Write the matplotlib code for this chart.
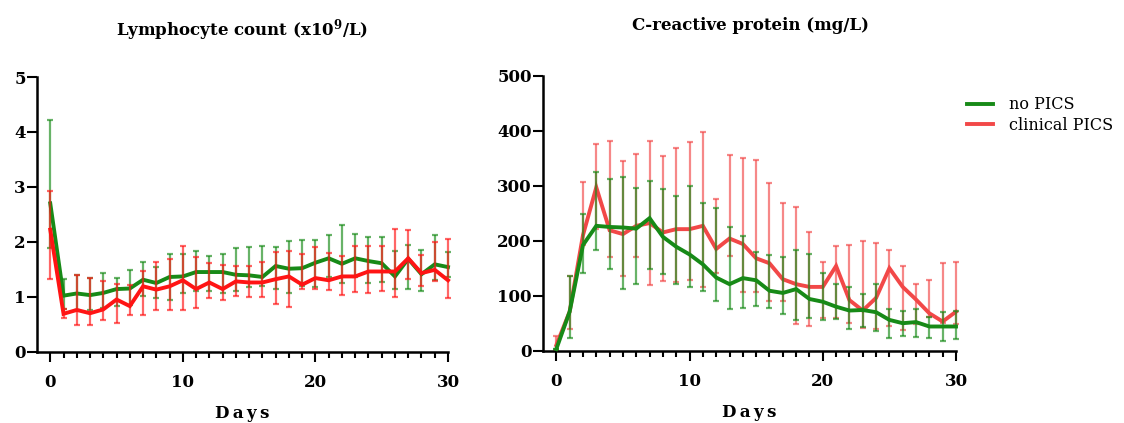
import numpy as np
import matplotlib
matplotlib.use("Agg")
from matplotlib import pyplot as plt
from matplotlib.lines import Line2D

plt.rcParams['font.family'] = ['DejaVu Serif']
plt.rcParams['mathtext.fontset'] = 'dejavuserif'

dias = np.arange(0, 31)

# Linfócitos (x10^9/L)
linf_no = [2.70, 1.02, 1.06, 1.03, 1.07, 1.14, 1.15, 1.31, 1.25, 1.36, 1.37,
           1.45, 1.45, 1.45, 1.40, 1.39, 1.36, 1.56, 1.51, 1.52, 1.62,
           1.70, 1.60, 1.70, 1.65, 1.61, 1.37, 1.69, 1.41, 1.59, 1.54]
linf_no_sup = [4.22, 1.33, 1.39, 1.35, 1.43, 1.34, 1.48, 1.63, 1.55, 1.78, 1.78,
               1.84, 1.74, 1.78, 1.88, 1.90, 1.93, 1.90, 2.01, 2.04, 2.04,
               2.13, 2.31, 2.14, 2.08, 2.08, 1.84, 1.95, 1.86, 2.13, 1.81]
linf_no_inf = [1.88, 0.77, 0.76, 0.75, 0.79, 0.83, 0.85, 1.02, 0.97, 0.95, 1.06,
               1.10, 1.10, 1.06, 1.11, 1.17, 1.20, 1.14, 1.07, 1.19, 1.17,
               1.36, 1.25, 1.36, 1.25, 1.27, 1.14, 1.14, 1.11, 1.30, 1.36]
linf_pics = [2.22, 0.69, 0.76, 0.70, 0.77, 0.95, 0.83, 1.19, 1.13, 1.19, 1.30,
             1.14, 1.26, 1.14, 1.28, 1.26, 1.26, 1.32, 1.37, 1.22, 1.34,
             1.30, 1.37, 1.37, 1.46, 1.46, 1.46, 1.70, 1.43, 1.49, 1.30]
linf_pics_sup = [2.93, 0.78, 1.39, 1.35, 1.29, 1.23, 1.21, 1.47, 1.64, 1.68, 1.93,
                 1.73, 1.62, 1.57, 1.56, 1.56, 1.63, 1.81, 1.84, 1.78, 1.90,
                 1.80, 1.75, 1.92, 1.92, 1.92, 2.23, 2.21, 1.76, 2.00, 2.05]
linf_pics_inf = [1.33, 0.62, 0.49, 0.49, 0.58, 0.53, 0.66, 0.66, 0.75, 0.75, 0.76,
                 0.80, 0.98, 0.95, 1.02, 1.00, 1.00, 0.87, 0.81, 1.14, 1.14,
                 1.13, 1.04, 1.08, 1.07, 1.11, 0.99, 1.32, 1.20, 1.28, 0.97]

# PCR (mg/L)
pcr_no = [3, 71, 192, 227, 225, 224, 222, 241, 207, 189, 175,
          157, 133, 121, 132, 128, 109, 105, 112, 94, 89,
          80, 73, 74, 70, 56, 50, 52, 44, 44, 44]
pcr_no_sup = [3, 136, 248, 325, 313, 316, 296, 309, 294, 282, 299,
              269, 260, 224, 208, 180, 174, 170, 183, 176, 142,
              122, 116, 103, 122, 76, 73, 76, 62, 70, 73]
pcr_no_inf = [3, 24, 142, 183, 148, 112, 121, 148, 139, 122, 115,
              108, 90, 76, 78, 82, 77, 66, 55, 60, 56,
              58, 39, 44, 36, 24, 27, 25, 24, 18, 21]
pcr_pics = [10, 71, 210, 297, 219, 212, 227, 232, 215, 221, 221,
            227, 185, 204, 194, 168, 159, 130, 121, 116, 116,
            154, 92, 73, 96, 150, 116, 93, 68, 53, 71]
pcr_pics_sup = [27, 136, 307, 375, 382, 344, 357, 381, 354, 368, 380,
                398, 276, 355, 350, 347, 304, 268, 262, 215, 161,
                191, 193, 200, 196, 183, 154, 122, 128, 160, 161]
pcr_pics_inf = [0, 39, 192, 222, 171, 135, 171, 119, 127, 124, 128,
                116, 142, 172, 107, 107, 91, 90, 48, 45, 59,
                59, 51, 42, 39, 45, 38, 48, 62, 51, 48]

verde = '#178a17'
vermelho = '#ff1414'
vermelho_claro = '#f24848'

fig = plt.figure(figsize=(11.24, 4.23), dpi=100)
ax1 = fig.add_axes([37/1124, (423-351.7)/423, 411/1124, 274.7/423])
ax2 = fig.add_axes([543/1124, (423-350.7)/423, 413/1124, 275/423])


def desenha(ax, media, sup, inf, cor, z):
    media = np.array(media, dtype=float)
    err = [media - np.array(inf), np.array(sup) - media]
    ax.errorbar(dias, media, yerr=err, fmt='none', ecolor=cor, alpha=0.65,
                elinewidth=1.6, capsize=2.5, capthick=1.6, clip_on=False, zorder=z)
    ax.plot(dias, media, color=cor, lw=2.8, clip_on=False, zorder=z + 1,
            solid_joinstyle='miter')


desenha(ax1, linf_no, linf_no_sup, linf_no_inf, verde, 2)
desenha(ax1, linf_pics, linf_pics_sup, linf_pics_inf, vermelho, 4)
desenha(ax2, pcr_pics, pcr_pics_sup, pcr_pics_inf, vermelho_claro, 2)
desenha(ax2, pcr_no, pcr_no_sup, pcr_no_inf, verde, 4)

for ax, ymax, passo in [(ax1, 5, 1), (ax2, 500, 100)]:
    ax.set_xlim(-1, 30)
    ax.set_ylim(0, ymax)
    ax.set_yticks(np.arange(0, ymax + passo, passo))
    ax.set_xticks([0, 10, 20, 30])
    ax.set_xticks(dias, minor=True)
    for s in ['top', 'right']:
        ax.spines[s].set_visible(False)
    for s in ['left', 'bottom']:
        ax.spines[s].set_linewidth(1.8)
    ax.tick_params(axis='both', which='major', length=7, width=1.5, labelsize=12)
    ax.tick_params(axis='y', pad=1)
    ax.tick_params(axis='x', which='major', pad=9)
    ax.tick_params(axis='x', which='minor', length=4, width=1.5)
    for lab in ax.get_xticklabels() + ax.get_yticklabels():
        lab.set_fontweight('bold')
    ax.set_xlabel('D\u2009a\u2009y\u2009s', fontsize=12, fontweight='bold', labelpad=10)

fig.text(0.2155, 1 - 30/423, r'Lymphocyte count (x10$^{\mathbf{9}}$/L)',
         ha='center', va='center', fontsize=12, fontweight='bold')
fig.text(750/1124, 1 - 25/423, 'C-reactive protein (mg/L)',
         ha='center', va='center', fontsize=12, fontweight='bold')

itens = [Line2D([0], [0], color=verde, lw=2.8),
         Line2D([0], [0], color=vermelho_claro, lw=2.8)]
fig.legend(itens, ['no PICS', 'clinical PICS'], loc='upper left',
           bbox_to_anchor=(953/1124, 1 - 82/423), frameon=False, fontsize=11.5,
           handlelength=1.6, handletextpad=1.0, labelspacing=0.2)

plt.savefig('out.png', dpi=100)
